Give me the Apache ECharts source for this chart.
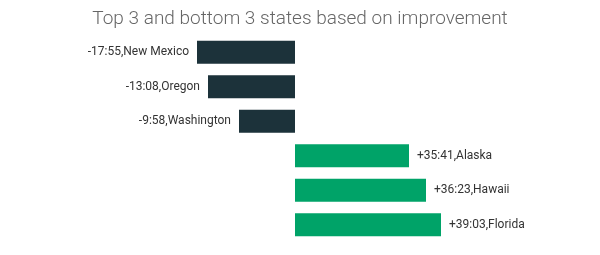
<!DOCTYPE html>
<html><head><meta charset="utf-8">
<script src="https://cdn.jsdelivr.net/npm/echarts@6/dist/echarts.min.js"></script>
<style>html,body{margin:0;padding:0;background:#fff}#c{width:600px;height:255px}</style>
</head><body><div id="c"></div>
<script>
const states = ['New Mexico', 'Oregon', 'Washington', 'Alaska', 'Hawaii', 'Florida'];
const changeLabels = ['-17:55', '-13:08', '-9:58', '+35:41', '+36:23', '+39:03'];
const barValues = [-98, -87, -56, 114, 131, 146];
const titleText = 'Top 3 and bottom 3 states based on improvement';

const chart = echarts.init(document.getElementById('c'));
chart.setOption({
  animation: false,
  title: {
    text: titleText, left: 'center', top: 5,
    textStyle: { fontFamily: 'Roboto', fontWeight: 300, fontSize: 19, color: '#666' }
  },
  grid: { left: 0, right: 0, top: 35, bottom: 13 },
  xAxis: { type: 'value', min: -295, max: 305, show: false },
  yAxis: { type: 'category', data: states, inverse: true, show: false },
  series: [{
    type: 'bar',
    barCategoryGap: '33%',
    data: barValues.map((v, i) => ({
      value: v,
      itemStyle: { color: v < 0 ? '#1c323a' : '#00a368' },
      label: { position: v < 0 ? 'left' : 'right' }
    })),
    label: {
      show: true, distance: 8,
      fontFamily: 'Roboto', fontSize: 12, color: '#333',
      formatter: p => changeLabels[p.dataIndex] + ',' + states[p.dataIndex]
    }
  }]
});
</script></body></html>
